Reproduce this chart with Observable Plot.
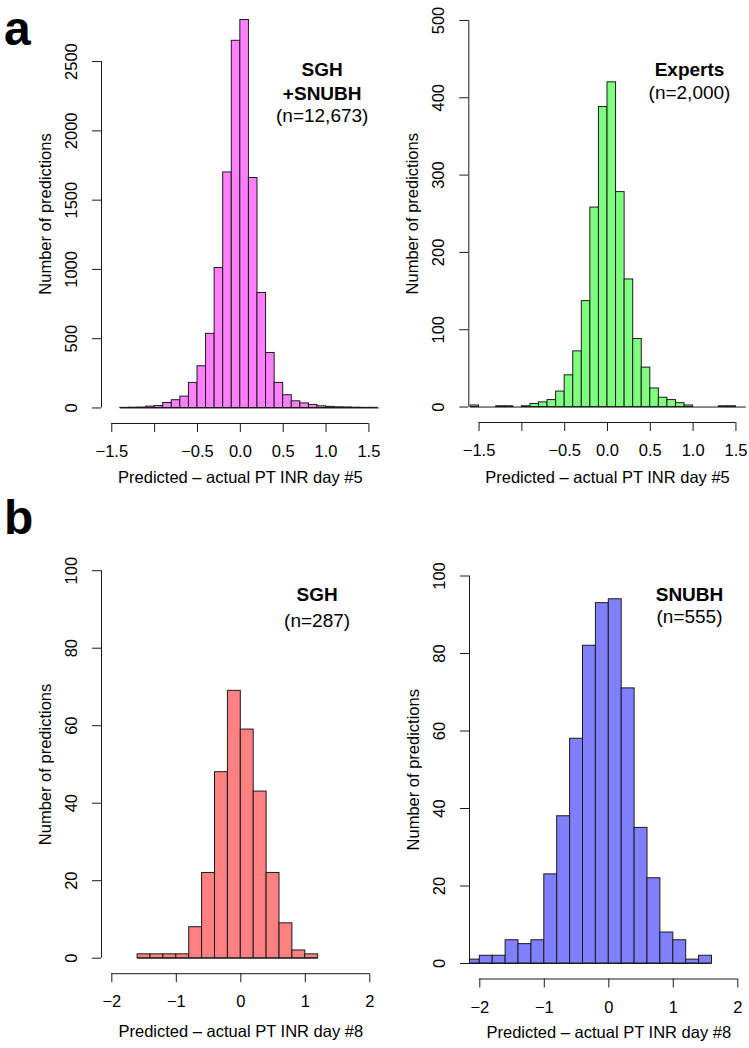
<!DOCTYPE html>
<html><head><meta charset="utf-8">
<script src="https://cdn.jsdelivr.net/npm/d3@7"></script>
<script src="https://cdn.jsdelivr.net/npm/@observablehq/plot@0.6"></script>
<style>
body{margin:0;background:#fff;}
#root{position:relative;width:749px;height:1048px;font-family:"Liberation Sans",Arial,Helvetica,sans-serif;overflow:hidden;background:#fff;}
.tag{position:absolute;font-weight:bold;font-size:48px;line-height:normal;color:#000;}
</style></head><body><div id="root"></div>
<script>
// ---------- DATA ----------
// Panel a, left: SGH+SNUBH (bins of 0.1 starting at -1.4)
const aLeftStart = -1.4, aLeftBinWidth = 0.1;
const aLeftCounts = [1,2,3,10,14,36,56,82,181,301,535,1010,1700,2650,2800,1660,830,397,181,92,48,33,22,12,8,5,4,2,1,1,0];
// Panel a, right: Experts (bins of 0.1 starting at -1.6)
const aRightStart = -1.6, aRightBinWidth = 0.1;
const aRightCounts = [2,0,0,1,1,0,1,4,6,9,20,41,72,137,258,388,420,278,165,88,51,24,12,9,5,2,0,0,0,1,1,0,0];
// Panel b, left: SGH (bins of 0.2 starting at -1.6)
const bLeftStart = -1.6, bLeftBinWidth = 0.2;
const bLeftCounts = [1,1,1,1,8,22,48,69,59,43,22,9,2,1];
// Panel b, right: SNUBH (bins of 0.2 starting at -2.2)
const bRightStart = -2.2, bRightBinWidth = 0.2;
const bRightCounts = [1,2,2,6,5,6,23,38,58,82,93,94,71,35,22,8,6,1,2];

const aXTicks = [-1.5,-1,-0.5,0,0.5,1,1.5];
const aXTickLabels = ["\u22121.5","","\u22120.5","0.0","0.5","1.0","1.5"];
const bXTicks = [-2,-1,0,1,2];
const bXTickLabels = ["\u22122","\u22121","0","1","2"];
const aLeftYTicks = [0,500,1000,1500,2000,2500];
const aRightYTicks = [0,100,200,300,400,500];
const bYTicks = [0,20,40,60,80,100];

const yTitle = "Number of predictions";
const aXTitle = "Predicted \u2013 actual PT INR day #5";
const bXTitle = "Predicted \u2013 actual PT INR day #8";

const aLeftLabelBold = "SGH\n+SNUBH", aLeftLabelN = "(n=12,673)";
const aRightLabelBold = "Experts", aRightLabelN = "(n=2,000)";
const bLeftLabelBold = "SGH", bLeftLabelN = "(n=287)";
const bRightLabelBold = "SNUBH", bRightLabelN = "(n=555)";

const colMagenta = "#ff80ff", colGreen = "#80ff80", colRed = "#ff8080", colBlue = "#8080ff";

// ---------- DRAW ----------
const FONT = '"Liberation Sans", Arial, Helvetica, sans-serif';
const root = document.getElementById("root");

function panel(cfg) {
  const bins = cfg.counts.map((n, i) => ({
    x1: +(cfg.start + i * cfg.binWidth).toFixed(4),
    x2: +(cfg.start + (i + 1) * cfg.binWidth).toFixed(4),
    n
  }));
  const xr = cfg.xTicks.at(-1) - cfg.xTicks[0];
  const xDom = [cfg.xTicks[0] - 0.04 * xr, cfg.xTicks.at(-1) + 0.04 * xr];
  const yMax = Math.max(d3.max(cfg.counts), cfg.yTicks.at(-1));
  const yDom = [-0.04 * yMax, 1.04 * yMax];
  const ink = "#1a1a1a";
  const svg = Plot.plot({
    width: cfg.g.width, height: cfg.g.height,
    marginLeft: cfg.g.ml, marginRight: cfg.g.mr, marginTop: cfg.g.mt, marginBottom: cfg.g.mb,
    x: {domain: xDom},
    y: {domain: yDom},
    style: {fontFamily: FONT, fontSize: "16.5px", color: "#000", background: "transparent", overflow: "visible"},
    marks: [
      Plot.ruleY([0], {x1: bins[0].x1, x2: bins.at(-1).x2, stroke: ink, strokeWidth: 1, clip: true}),
      Plot.rectY(bins, {x1: "x1", x2: "x2", y1: 0, y2: "n", fill: cfg.fill, stroke: ink, strokeWidth: 1, clip: true}),
      // y axis
      Plot.axisY(cfg.yTicks, {anchor: "left", tickSize: 9, tickFormat: () => "", label: null, stroke: ink}),
      Plot.ruleX([xDom[0]], {y1: cfg.yTicks[0], y2: cfg.yTicks.at(-1), stroke: ink}),
      Plot.text(cfg.yTicks, {y: d => d, frameAnchor: "left", dx: -30, rotate: -90, text: d => String(d),
        textAnchor: "middle", lineAnchor: "middle", fontSize: 16.5, fill: "#000"}),
      Plot.text([yTitle], {frameAnchor: "left", dx: -56, rotate: -90, text: d => d,
        textAnchor: "middle", lineAnchor: "middle", fontSize: 16.5, fill: "#000"}),
      // x axis
      Plot.axisX(cfg.xTicks, {anchor: "bottom", tickSize: 9, tickPadding: 13,
        tickFormat: d => cfg.xLabels[cfg.xTicks.indexOf(d)], label: null, stroke: ink, fontSize: 16.5}),
      Plot.ruleY([yDom[0]], {x1: cfg.xTicks[0], x2: cfg.xTicks.at(-1), stroke: ink}),
      Plot.text([cfg.xTitle], {frameAnchor: "bottom", dy: cfg.g.titleDy, text: d => d,
        textAnchor: "middle", lineAnchor: "middle", fontSize: 16.5, fill: "#000"}),
      // annotations
      Plot.text([cfg.labBold], {frameAnchor: "top-right", dx: cfg.g.adx, dy: cfg.g.ady, text: d => d,
        textAnchor: "middle", lineAnchor: "middle", fontSize: 19, fontWeight: "bold", lineHeight: 1.24, fill: "#000"}),
      Plot.text([cfg.labN], {frameAnchor: "top-right", dx: cfg.g.adx, dy: cfg.g.ndy, text: d => d,
        textAnchor: "middle", lineAnchor: "middle", fontSize: 19, fill: "#000"})
    ]
  });
  svg.style.position = "absolute";
  svg.style.left = cfg.g.left + "px";
  svg.style.top = cfg.g.top + "px";
  root.appendChild(svg);
}

panel({counts: aLeftCounts, start: aLeftStart, binWidth: aLeftBinWidth, xTicks: aXTicks, xLabels: aXTickLabels,
  yTicks: aLeftYTicks, fill: colMagenta, xTitle: aXTitle, labBold: aLeftLabelBold, labN: aLeftLabelN,
  g: {left: 0, top: 0, width: 380, height: 524, ml: 101, mr: 1.3, mt: 4, mb: 101, titleDy: 54, adx: -57, ady: 75.8, ndy: 111}});
panel({counts: aRightCounts, start: aRightStart, binWidth: aRightBinWidth, xTicks: aXTicks, xLabels: aXTickLabels,
  yTicks: aRightYTicks, fill: colGreen, xTitle: aXTitle, labBold: aRightLabelBold, labN: aRightLabelN,
  g: {left: 367, top: 0, width: 382, height: 524, ml: 101.3, mr: 3.3, mt: 4.5, mb: 102, titleDy: 55, adx: -56.7, ady: 63.5, ndy: 87.5}});
panel({counts: bLeftCounts, start: bLeftStart, binWidth: bLeftBinWidth, xTicks: bXTicks, xLabels: bXTickLabels,
  yTicks: bYTicks, fill: colRed, xTitle: bXTitle, labBold: bLeftLabelBold, labN: bLeftLabelN,
  g: {left: 0, top: 524, width: 380, height: 524, ml: 101, mr: 0.4, mt: 30.7, mb: 74.8, titleDy: 58, adx: -63, ady: 38.3, ndy: 65.3}});
panel({counts: bRightCounts, start: bRightStart, binWidth: bRightBinWidth, xTicks: bXTicks, xLabels: bXTickLabels,
  yTicks: bYTicks, fill: colBlue, xTitle: bXTitle, labBold: bRightLabelBold, labN: bRightLabelN,
  g: {left: 368, top: 524, width: 381, height: 524, ml: 101, mr: 1.4, mt: 36, mb: 69.5, titleDy: 54, adx: -58.6, ady: 32.7, ndy: 56.7}});

// panel tags
for (const [t, top] of [["a", 1], ["b", 490]]) {
  const d = document.createElement("div");
  d.className = "tag"; d.textContent = t;
  d.style.left = "4px"; d.style.top = top + "px";
  root.appendChild(d);
}
</script></body></html>
